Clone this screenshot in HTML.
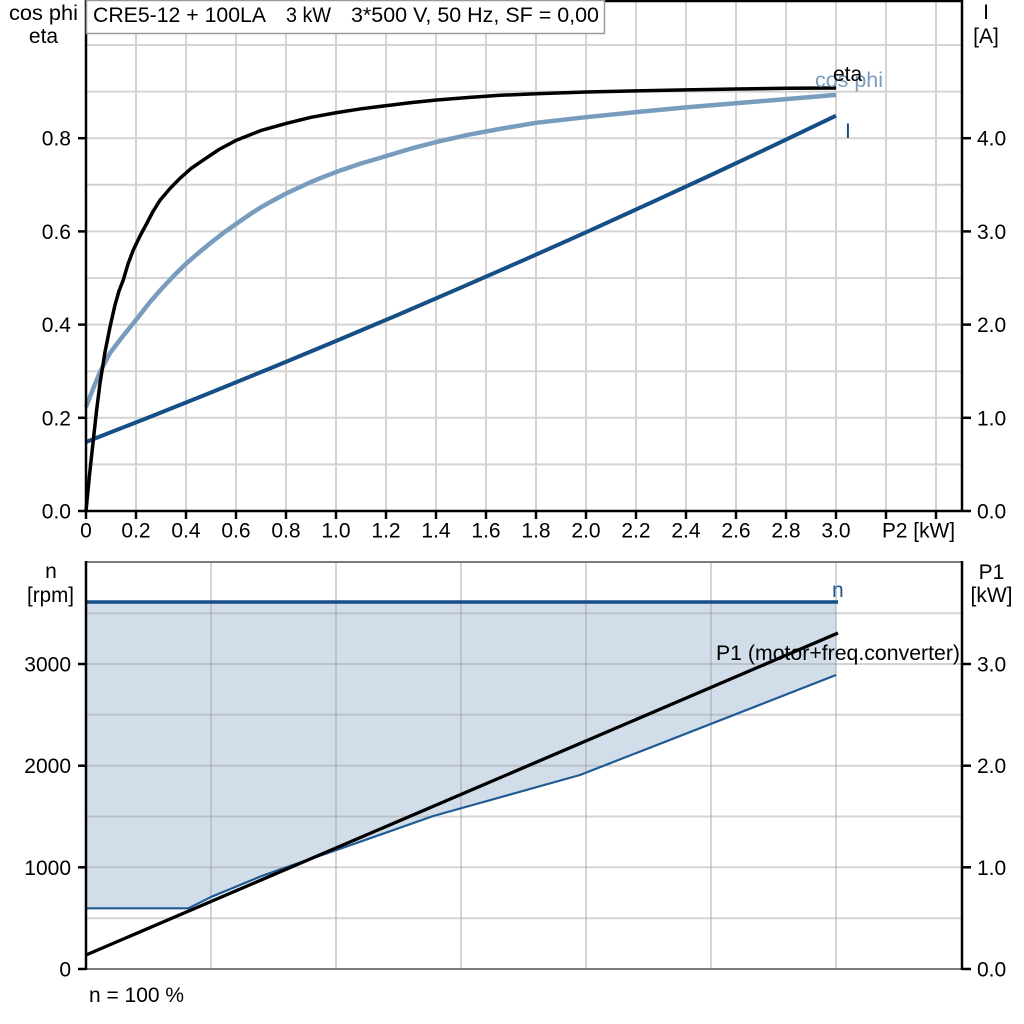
<!DOCTYPE html>
<html>
<head>
<meta charset="utf-8">
<style>
html,body{margin:0;padding:0;background:#fff;}
svg{display:block;}
text{font-family:"Liberation Sans",Arial,sans-serif;font-size:21px;fill:#000;}
</style>
</head>
<body>
<svg width="1024" height="1024" viewBox="0 0 1024 1024" xmlns="http://www.w3.org/2000/svg">
<rect x="0" y="0" width="1024" height="1024" fill="#fff"/>

<!-- ================= TOP CHART ================= -->
<g stroke="#d4d4d4" stroke-width="2" fill="none">
  <line x1="136" y1="0" x2="136" y2="511"/>
  <line x1="186" y1="0" x2="186" y2="511"/>
  <line x1="236" y1="0" x2="236" y2="511"/>
  <line x1="286" y1="0" x2="286" y2="511"/>
  <line x1="336" y1="0" x2="336" y2="511"/>
  <line x1="386" y1="0" x2="386" y2="511"/>
  <line x1="436" y1="0" x2="436" y2="511"/>
  <line x1="486" y1="0" x2="486" y2="511"/>
  <line x1="536" y1="0" x2="536" y2="511"/>
  <line x1="586" y1="0" x2="586" y2="511"/>
  <line x1="636" y1="0" x2="636" y2="511"/>
  <line x1="686" y1="0" x2="686" y2="511"/>
  <line x1="736" y1="0" x2="736" y2="511"/>
  <line x1="786" y1="0" x2="786" y2="511"/>
  <line x1="836" y1="0" x2="836" y2="511"/>
  <line x1="886" y1="0" x2="886" y2="511"/>
  <line x1="936" y1="0" x2="936" y2="511"/>
  <line x1="86" y1="464.4" x2="962" y2="464.4"/>
  <line x1="86" y1="417.8" x2="962" y2="417.8"/>
  <line x1="86" y1="371.2" x2="962" y2="371.2"/>
  <line x1="86" y1="324.6" x2="962" y2="324.6"/>
  <line x1="86" y1="278" x2="962" y2="278"/>
  <line x1="86" y1="231.4" x2="962" y2="231.4"/>
  <line x1="86" y1="184.8" x2="962" y2="184.8"/>
  <line x1="86" y1="138.2" x2="962" y2="138.2"/>
  <line x1="86" y1="91.6" x2="962" y2="91.6"/>
  <line x1="86" y1="45" x2="962" y2="45"/>
</g>

<!-- I line -->
<polyline fill="none" stroke="#154f86" stroke-width="4" stroke-linejoin="round"
 points="86,442 148.5,417.5 211,392.5 273.5,367 336,341 398.5,314.6 461,287.6 523.5,260.2 586,232.3 648.5,203.8 711,175 773.5,145.6 836,115.7"/>
<!-- cos phi -->
<polyline fill="none" stroke="#789cbd" stroke-width="4.5" stroke-linejoin="round"
 points="86,407.1 93,389 100,372.1 110,353 123,336 136,319.9 150,302 163.3,286.9 175,274.5 186.7,263.1 199,252.5 211,242.6 224,232.5 236.7,223.5 249,215 261,207.2 274,200 286.7,193.2 299,187.5 311,182 324,176.7 336.7,171.8 361,163.5 386.7,155.9 411,148.6 436.7,141.9 468,134.8 500,128.9 536,122.8 586,117.2 636,112.1 686,107.4 736,103.3 786,99.1 836,94.9"/>
<!-- eta -->
<polyline fill="none" stroke="#000" stroke-width="3.5" stroke-linejoin="round"
 points="86,511 89.5,475 93.3,440.2 96.5,411 100,383.3 105,352 110,327 115,305 119,291 123.3,279.9 128,264 133.3,250 140,236 146.7,223.5 153,211.5 160,200.2 170,188.5 180,178.3 191,168.5 203.3,160.1 219,149.5 236.7,140.1 261,130.5 286.7,123.3 311,117.3 336.7,112.6 361,108.8 386.7,105.6 411,102.6 436.7,100 468,97.5 500,95.3 536,93.8 586,92 636,90.9 686,89.9 736,89 786,88.3 836,88"/>

<!-- top axes -->
<g stroke="#000" stroke-width="2.5" fill="none">
  <line x1="86" y1="0" x2="86" y2="512"/>
  <line x1="962" y1="0" x2="962" y2="512"/>
  <line x1="78" y1="511" x2="971" y2="511"/>
  <line x1="86" y1="1" x2="962" y2="1"/>
</g>
<g stroke="#000" stroke-width="2.5">
  <line x1="78" y1="417.8" x2="86" y2="417.8"/>
  <line x1="78" y1="324.6" x2="86" y2="324.6"/>
  <line x1="78" y1="231.4" x2="86" y2="231.4"/>
  <line x1="78" y1="138.2" x2="86" y2="138.2"/>
  <line x1="962" y1="417.8" x2="971" y2="417.8"/>
  <line x1="962" y1="324.6" x2="971" y2="324.6"/>
  <line x1="962" y1="231.4" x2="971" y2="231.4"/>
  <line x1="962" y1="138.2" x2="971" y2="138.2"/>
  <line x1="86" y1="511" x2="86" y2="519"/>
  <line x1="136" y1="511" x2="136" y2="519"/>
  <line x1="186" y1="511" x2="186" y2="519"/>
  <line x1="236" y1="511" x2="236" y2="519"/>
  <line x1="286" y1="511" x2="286" y2="519"/>
  <line x1="336" y1="511" x2="336" y2="519"/>
  <line x1="386" y1="511" x2="386" y2="519"/>
  <line x1="436" y1="511" x2="436" y2="519"/>
  <line x1="486" y1="511" x2="486" y2="519"/>
  <line x1="536" y1="511" x2="536" y2="519"/>
  <line x1="586" y1="511" x2="586" y2="519"/>
  <line x1="636" y1="511" x2="636" y2="519"/>
  <line x1="686" y1="511" x2="686" y2="519"/>
  <line x1="736" y1="511" x2="736" y2="519"/>
  <line x1="786" y1="511" x2="786" y2="519"/>
  <line x1="836" y1="511" x2="836" y2="519"/>
  <line x1="886" y1="511" x2="886" y2="519"/>
  <line x1="936" y1="511" x2="936" y2="519"/>
</g>

<!-- title box -->
<rect x="86.5" y="0.5" width="518" height="33" fill="#fff" stroke="#9a9a9a" stroke-width="1.5"/>
<text x="93" y="22" textLength="173" lengthAdjust="spacingAndGlyphs">CRE5-12 + 100LA</text>
<text x="286" y="22" textLength="45" lengthAdjust="spacingAndGlyphs">3 kW</text>
<text x="351" y="22" textLength="248" lengthAdjust="spacingAndGlyphs">3*500 V, 50 Hz, SF = 0,00</text>

<!-- top left axis titles -->
<text x="43.5" y="20" text-anchor="middle" textLength="69" lengthAdjust="spacingAndGlyphs">cos phi</text>
<text x="43.5" y="43" text-anchor="middle">eta</text>
<!-- top right axis titles -->
<text x="986" y="19" text-anchor="middle">I</text>
<text x="986" y="43" text-anchor="middle">[A]</text>

<!-- top left tick labels -->
<g text-anchor="end">
  <text x="71" y="518.5">0.0</text>
  <text x="71" y="425.3">0.2</text>
  <text x="71" y="332.1">0.4</text>
  <text x="71" y="238.9">0.6</text>
  <text x="71" y="145.7">0.8</text>
</g>
<!-- top right tick labels -->
<g>
  <text x="977" y="518.5">0.0</text>
  <text x="977" y="425.3">1.0</text>
  <text x="977" y="332.1">2.0</text>
  <text x="977" y="238.9">3.0</text>
  <text x="977" y="145.7">4.0</text>
</g>
<!-- x tick labels -->
<g text-anchor="middle">
  <text x="86" y="537.5">0</text>
  <text x="136" y="537.5">0.2</text>
  <text x="186" y="537.5">0.4</text>
  <text x="236" y="537.5">0.6</text>
  <text x="286" y="537.5">0.8</text>
  <text x="336" y="537.5">1.0</text>
  <text x="386" y="537.5">1.2</text>
  <text x="436" y="537.5">1.4</text>
  <text x="486" y="537.5">1.6</text>
  <text x="536" y="537.5">1.8</text>
  <text x="586" y="537.5">2.0</text>
  <text x="636" y="537.5">2.2</text>
  <text x="686" y="537.5">2.4</text>
  <text x="736" y="537.5">2.6</text>
  <text x="786" y="537.5">2.8</text>
  <text x="836" y="537.5">3.0</text>
</g>
<text x="882" y="537.5" textLength="73" lengthAdjust="spacingAndGlyphs">P2 [kW]</text>

<!-- series labels top -->
<text x="815" y="87" style="fill:#789cbd" textLength="68" lengthAdjust="spacingAndGlyphs">cos phi</text>
<text x="833" y="81">eta</text>
<text x="845" y="138" style="fill:#154f86">I</text>

<!-- ================= BOTTOM CHART ================= -->
<!-- fill -->
<polygon fill="#d1dde8" stroke="none"
 points="86,602 836,602 836,675 580,775 433.3,816 336.7,850 283.3,868.3 260,876.7 211.7,896.7 188.3,908.3 86,908.3"/>

<g stroke="rgba(160,160,165,0.45)" stroke-width="2" fill="none">
  <line x1="211" y1="562" x2="211" y2="969"/>
  <line x1="336" y1="562" x2="336" y2="969"/>
  <line x1="461" y1="562" x2="461" y2="969"/>
  <line x1="586" y1="562" x2="586" y2="969"/>
  <line x1="711" y1="562" x2="711" y2="969"/>
  <line x1="836" y1="562" x2="836" y2="969"/>
  <line x1="86" y1="918.2" x2="962" y2="918.2"/>
  <line x1="86" y1="867.3" x2="962" y2="867.3"/>
  <line x1="86" y1="816.5" x2="962" y2="816.5"/>
  <line x1="86" y1="765.7" x2="962" y2="765.7"/>
  <line x1="86" y1="714.8" x2="962" y2="714.8"/>
  <line x1="86" y1="664" x2="962" y2="664"/>
  <line x1="86" y1="613.2" x2="962" y2="613.2"/>
</g>

<!-- lower curve -->
<polyline fill="none" stroke="#1f5a94" stroke-width="2.2" stroke-linejoin="round"
 points="86,908.3 188.3,908.3 211.7,896.7 260,876.7 283.3,868.3 336.7,850 433.3,816 580,775 836,675"/>
<!-- n line -->
<line x1="86" y1="602" x2="838" y2="602" stroke="#164e85" stroke-width="3.5"/>
<!-- P1 line -->
<line x1="86" y1="955" x2="838" y2="633" stroke="#000" stroke-width="3.3"/>

<!-- bottom axes -->
<line x1="86" y1="562" x2="962" y2="562" stroke="#7a7a7a" stroke-width="2"/>
<line x1="86" y1="969" x2="962" y2="969" stroke="#7a7a7a" stroke-width="2"/>
<g stroke="#000" stroke-width="2.5">
  <line x1="86" y1="561" x2="86" y2="970"/>
  <line x1="962" y1="561" x2="962" y2="970"/>
  <line x1="78" y1="969" x2="86" y2="969"/>
  <line x1="78" y1="867.3" x2="86" y2="867.3"/>
  <line x1="78" y1="765.7" x2="86" y2="765.7"/>
  <line x1="78" y1="664" x2="86" y2="664"/>
  <line x1="962" y1="969" x2="971" y2="969"/>
  <line x1="962" y1="867.3" x2="971" y2="867.3"/>
  <line x1="962" y1="765.7" x2="971" y2="765.7"/>
  <line x1="962" y1="664" x2="971" y2="664"/>
</g>

<!-- bottom axis titles -->
<text x="51" y="578" text-anchor="middle">n</text>
<text x="50.5" y="602" text-anchor="middle" textLength="47" lengthAdjust="spacingAndGlyphs">[rpm]</text>
<text x="991.5" y="579" text-anchor="middle">P1</text>
<text x="991.5" y="602" text-anchor="middle">[kW]</text>

<!-- bottom tick labels -->
<g text-anchor="end">
  <text x="71" y="976.5">0</text>
  <text x="71" y="874.8">1000</text>
  <text x="71" y="773.2">2000</text>
  <text x="71" y="671.5">3000</text>
</g>
<g>
  <text x="977" y="976.5">0.0</text>
  <text x="977" y="874.8">1.0</text>
  <text x="977" y="773.2">2.0</text>
  <text x="977" y="671.5">3.0</text>
</g>

<!-- series labels bottom -->
<text x="832" y="597" style="fill:#1f5a94">n</text>
<text x="716" y="660" textLength="244" lengthAdjust="spacingAndGlyphs">P1 (motor+freq.converter)</text>
<text x="89" y="1002" textLength="95" lengthAdjust="spacingAndGlyphs">n = 100 %</text>
</svg>
</body>
</html>
